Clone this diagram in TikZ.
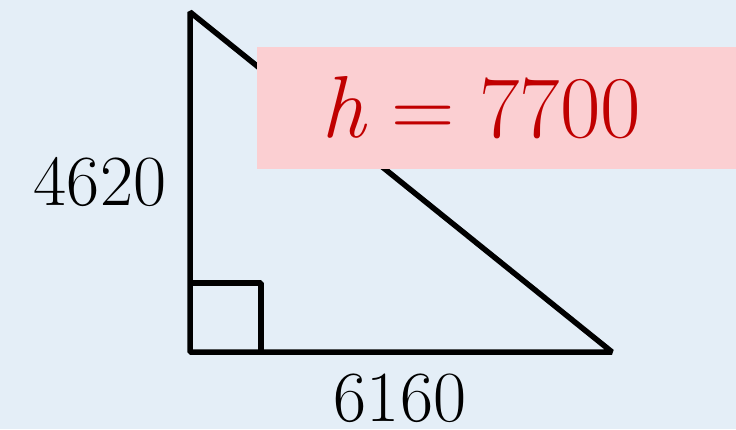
\documentclass[tikz,border=0pt]{standalone}
\usepackage{tikz}
\usetikzlibrary{positioning,calc}
\definecolor{bgblue}{HTML}{E4EEF7}
\definecolor{boxpink}{HTML}{FBCFD2}
\definecolor{ansred}{HTML}{C00000}
\tikzset{
side/.style={line width=5.5pt,line join=bevel},
len/.style={font=\fontsize{72}{76}\selectfont,inner sep=0pt},
ansbox/.style={fill=boxpink,minimum width=480pt,minimum height=122pt,inner sep=0pt},
ans/.style={text=ansred,font=\fontsize{88}{92}\selectfont,inner sep=0pt},
}

\begin{document}
\begin{tikzpicture}[x=1pt,y=-1pt]
	\fill[bgblue] (0,0) rectangle (736,429);
	\useasboundingbox (0,0) rectangle (736,429);
	\coordinate (top) at (190,12);
	\coordinate (rt) at (190,352);
	\coordinate (end) at (612,352);
	\coordinate (sq) at (261,283);

	\draw[side] (top) -- (rt) -- (end) -- cycle;
	\draw[side] (rt |- sq) -| (sq |- rt);

	\node[len,anchor=base] (a) at (100,205) {4620};
	\node[len,anchor=base] (b) at (400,421) {6160};
	\node[ansbox] (box) at (497,108) {};
	\node[ans,anchor=base] (h) at (481,137) {\textit{h}\;=\;7700};
\end{tikzpicture}
\end{document}
